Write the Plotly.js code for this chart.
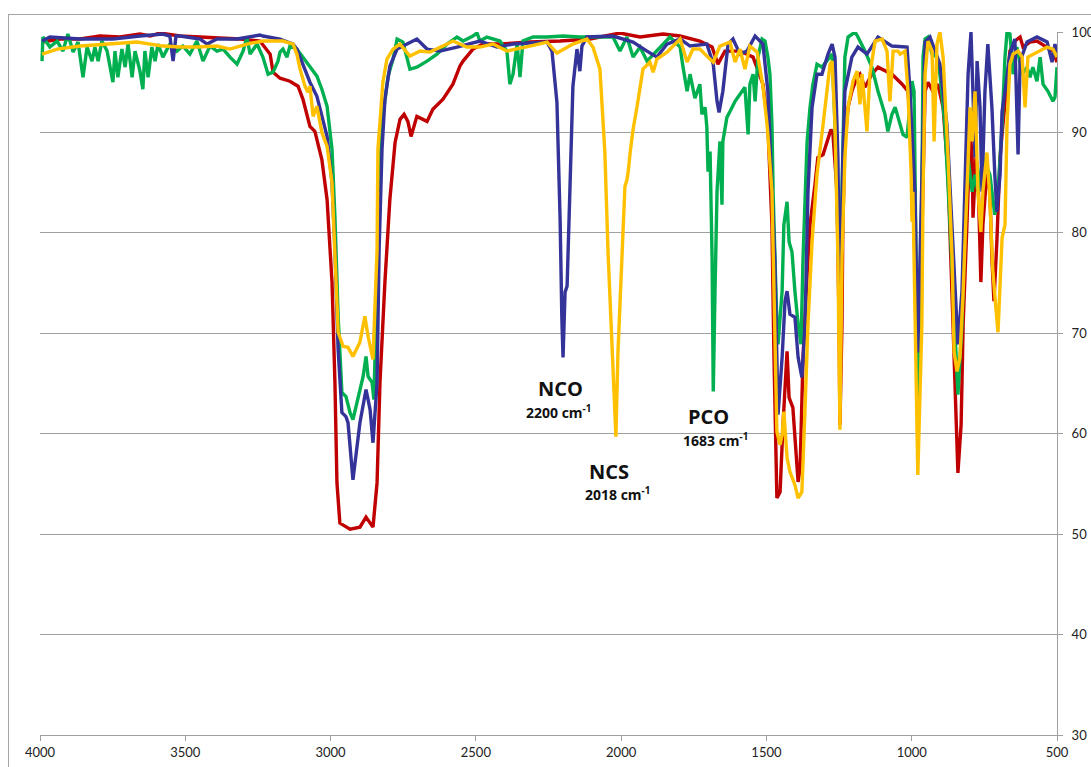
<!DOCTYPE html>
<html>
<head>
<meta charset="utf-8">
<script src="https://cdn.plot.ly/plotly-3.0.1.min.js"></script>
<style>
  html, body { margin: 0; padding: 0; background: #fff; overflow: hidden; }
  #wrap { position: relative; width: 1091px; height: 767px; }
  #chart { position: absolute; left: 0; top: 0; width: 1091px; height: 767px; }
  #frame { position: absolute; left: 8px; top: 14px; width: 2000px; height: 2000px;
           border-left: 1px solid #a6a6a6; border-top: 1px solid #a6a6a6; pointer-events: none; }
</style>
</head>
<body>
<div id="wrap">
  <div id="chart"></div>
  <div id="frame"></div>
</div>
<script>
// FTIR transmittance spectra: [wavenumber (cm-1), transmittance (%)]
const redSpectrum = [
  [3993, 99.0], [3931, 99.3], [3862, 99.3], [3794, 99.6], [3725, 99.5], [3656, 99.8],
  [3621, 99.6], [3587, 99.9], [3518, 99.6], [3449, 99.5], [3381, 99.4], [3312, 99.3],
  [3243, 99.1], [3208, 97.8], [3198, 96.0], [3174, 95.4], [3140, 95.1], [3112, 94.6],
  [3095, 93.3], [3071, 90.6], [3054, 90.1], [3030, 87.3], [3012, 83.3], [2995, 75.1],
  [2985, 65.1], [2978, 55.1], [2968, 51.1], [2933, 50.5], [2899, 50.7], [2878, 51.7],
  [2854, 50.7], [2840, 55.1], [2830, 65.1], [2813, 75.1], [2796, 83.3], [2778, 89.0],
  [2761, 91.3], [2747, 91.8], [2734, 91.1], [2723, 89.6], [2703, 91.6], [2668, 91.1],
  [2648, 92.3], [2613, 93.3], [2579, 94.8], [2555, 96.6], [2544, 97.1], [2510, 98.3],
  [2475, 98.8], [2417, 98.8], [2314, 99.0], [2210, 99.1], [2107, 99.3], [2004, 99.9],
  [1935, 99.5], [1856, 99.8], [1797, 99.6], [1729, 99.1], [1687, 98.5], [1667, 96.8],
  [1643, 98.1], [1591, 98.1], [1546, 97.5], [1512, 94.8], [1495, 90.8], [1481, 80.8],
  [1474, 67.6], [1467, 57.6], [1464, 53.6], [1453, 54.2], [1443, 60.9], [1429, 68.2],
  [1422, 63.6], [1409, 62.6], [1395, 56.6], [1391, 55.2], [1384, 56.6], [1374, 67.6],
  [1360, 75.9], [1350, 80.8], [1333, 84.8], [1323, 87.5], [1305, 87.8], [1292, 89.1],
  [1278, 90.3], [1271, 89.8], [1257, 84.1], [1250, 70.9], [1247, 60.9], [1240, 70.9],
  [1237, 80.8], [1230, 89.1], [1219, 92.5], [1206, 94.1], [1188, 95.5], [1178, 95.8],
  [1161, 94.5], [1137, 95.8], [1116, 96.5], [1068, 95.8], [1033, 94.8], [1013, 94.1],
  [999, 89.1], [989, 77.5], [979, 62.6], [972, 70.9], [961, 84.1], [954, 94.1],
  [944, 95.0], [927, 94.1], [910, 94.8], [892, 92.5], [875, 85.8], [858, 70.9],
  [844, 57.6], [841, 56.1], [830, 60.9], [823, 70.9], [810, 80.8], [799, 90.1],
  [792, 87.5], [789, 81.5], [779, 87.5], [772, 85.8], [762, 75.1], [755, 80.8],
  [741, 86.1], [731, 84.1], [724, 77.5], [717, 73.2], [707, 79.1], [696, 87.5],
  [686, 90.8], [672, 94.8], [662, 98.1], [645, 99.1], [627, 99.5], [617, 98.5],
  [593, 99.0], [569, 99.1], [534, 98.5], [514, 98.1], [500, 97.0]
];

const greenSpectrum = [
  [3993, 97.1], [3990, 99.5], [3966, 98.5], [3941, 99.1], [3921, 98.1], [3904, 99.8],
  [3886, 98.0], [3869, 99.0], [3852, 95.5], [3838, 98.5], [3821, 97.1], [3811, 98.5],
  [3800, 97.1], [3787, 99.1], [3769, 98.1], [3749, 95.0], [3742, 98.1], [3732, 95.5],
  [3718, 98.3], [3707, 96.5], [3697, 98.8], [3683, 95.5], [3673, 98.1], [3656, 96.1],
  [3646, 94.3], [3639, 98.1], [3628, 95.5], [3615, 98.5], [3604, 97.1], [3594, 98.8],
  [3577, 97.5], [3553, 98.8], [3529, 98.1], [3508, 98.6], [3484, 97.8], [3460, 99.1],
  [3439, 97.1], [3415, 98.6], [3391, 98.1], [3370, 98.3], [3346, 97.5], [3322, 96.8],
  [3301, 98.1], [3288, 99.5], [3277, 97.8], [3253, 98.8], [3233, 97.5], [3215, 95.8],
  [3198, 96.0], [3181, 97.1], [3174, 98.0], [3164, 98.3], [3150, 97.5], [3140, 98.6],
  [3116, 98.3], [3071, 96.6], [3047, 95.6], [3030, 94.3], [3012, 92.6], [2995, 88.3],
  [2985, 81.6], [2974, 71.7], [2961, 64.1], [2947, 63.7], [2933, 62.1], [2923, 61.4],
  [2906, 63.4], [2888, 65.7], [2878, 67.7], [2871, 65.7], [2857, 65.1], [2851, 63.4],
  [2840, 75.1], [2833, 85.0], [2820, 91.6], [2802, 95.6], [2785, 97.3], [2771, 99.3],
  [2751, 99.0], [2737, 97.5], [2727, 96.3], [2703, 96.5], [2668, 97.1], [2634, 97.8],
  [2599, 98.8], [2565, 99.5], [2544, 99.1], [2510, 99.6], [2496, 99.9], [2486, 99.1],
  [2462, 99.5], [2417, 99.1], [2393, 98.1], [2383, 94.8], [2372, 95.8], [2358, 98.8],
  [2348, 95.5], [2338, 99.1], [2303, 99.5], [2255, 99.5], [2200, 99.6], [2142, 99.5],
  [2083, 99.5], [2028, 99.5], [2004, 98.1], [1980, 99.5], [1959, 97.5], [1935, 98.5],
  [1911, 97.1], [1877, 98.1], [1856, 98.8], [1832, 99.5], [1808, 98.8], [1797, 98.5],
  [1787, 96.5], [1773, 94.1], [1763, 95.8], [1746, 93.4], [1729, 94.8], [1722, 91.8],
  [1711, 92.5], [1705, 90.5], [1701, 86.1], [1694, 88.1], [1687, 77.5], [1683, 64.2],
  [1677, 74.1], [1670, 84.1], [1660, 89.1], [1653, 82.8], [1650, 89.1], [1636, 91.5],
  [1625, 92.1], [1608, 93.1], [1591, 93.8], [1574, 94.5], [1563, 89.8], [1557, 94.8],
  [1546, 95.8], [1539, 93.1], [1529, 97.5], [1515, 99.3], [1505, 99.1], [1495, 97.5],
  [1488, 95.8], [1481, 90.8], [1477, 84.1], [1471, 77.5], [1464, 70.9], [1460, 68.9],
  [1446, 74.2], [1440, 80.8], [1429, 83.1], [1422, 79.1], [1412, 78.1], [1402, 74.2],
  [1391, 70.9], [1381, 68.9], [1374, 77.5], [1360, 89.1], [1350, 92.5], [1340, 94.8],
  [1326, 96.8], [1309, 96.5], [1292, 97.1], [1274, 97.8], [1264, 90.8], [1254, 77.5],
  [1247, 71.6], [1240, 84.1], [1230, 97.5], [1219, 99.5], [1202, 99.8], [1195, 100.0],
  [1185, 99.5], [1161, 98.1], [1137, 96.5], [1116, 94.1], [1092, 91.8], [1082, 90.1],
  [1068, 91.8], [1057, 92.5], [1047, 91.5], [1030, 89.8], [1016, 89.5], [999, 95.1],
  [992, 94.1], [982, 70.9], [979, 63.0], [965, 84.1], [961, 97.5], [954, 99.3],
  [944, 99.5], [930, 97.8], [913, 97.5], [903, 95.8], [886, 90.8], [868, 80.8],
  [851, 69.1], [841, 63.9], [827, 70.9], [817, 80.8], [806, 87.5], [792, 84.1],
  [782, 85.8], [772, 84.1], [755, 87.5], [731, 85.8], [714, 81.8], [703, 84.1],
  [689, 90.8], [679, 97.5], [672, 100.0], [662, 99.8], [651, 95.8], [638, 98.5],
  [620, 95.8], [603, 96.5], [593, 95.5], [583, 96.5], [569, 95.1], [558, 97.5],
  [548, 94.8], [531, 94.1], [514, 93.1], [507, 93.5], [500, 96.5]
];

const blueSpectrum = [
  [3993, 99.1], [3966, 99.5], [3862, 99.3], [3749, 99.3], [3656, 99.6], [3577, 99.8],
  [3553, 99.6], [3542, 97.1], [3532, 99.6], [3518, 99.6], [3449, 99.3], [3425, 98.8],
  [3391, 99.3], [3322, 99.3], [3243, 99.7], [3233, 99.6], [3174, 99.3], [3129, 98.8],
  [3116, 98.3], [3071, 95.0], [3047, 93.6], [3012, 89.6], [2995, 85.0], [2985, 78.3],
  [2974, 68.4], [2961, 62.1], [2947, 61.7], [2940, 61.1], [2923, 55.4], [2899, 61.1],
  [2878, 64.4], [2864, 62.4], [2854, 59.1], [2840, 65.1], [2833, 78.3], [2823, 88.3],
  [2813, 93.3], [2796, 96.6], [2771, 98.3], [2737, 98.8], [2703, 99.3], [2668, 98.3],
  [2623, 98.1], [2565, 98.5], [2486, 99.1], [2427, 98.5], [2372, 98.8], [2255, 99.0],
  [2238, 98.1], [2221, 93.0], [2210, 81.3], [2204, 71.4], [2200, 67.6], [2193, 74.1],
  [2186, 74.7], [2176, 84.6], [2166, 94.6], [2152, 98.3], [2142, 96.1], [2135, 98.6],
  [2118, 99.5], [2028, 99.6], [1959, 99.0], [1911, 98.1], [1877, 97.5], [1842, 98.8],
  [1797, 99.3], [1763, 98.6], [1705, 98.8], [1683, 96.8], [1670, 93.1], [1663, 92.0],
  [1650, 94.1], [1632, 98.8], [1615, 99.3], [1591, 97.8], [1567, 98.1], [1539, 99.6],
  [1512, 98.8], [1495, 94.1], [1481, 84.1], [1471, 77.3], [1460, 61.9], [1446, 67.6],
  [1436, 73.2], [1429, 74.2], [1419, 71.9], [1402, 71.6], [1391, 67.6], [1378, 65.6],
  [1367, 70.9], [1357, 84.1], [1343, 92.5], [1326, 95.8], [1309, 95.8], [1288, 97.8],
  [1274, 98.8], [1264, 97.5], [1254, 87.5], [1247, 70.9], [1237, 87.5], [1230, 94.1],
  [1206, 97.5], [1185, 98.5], [1154, 97.8], [1116, 99.5], [1068, 98.6], [1016, 98.5],
  [1006, 94.1], [989, 84.1], [979, 68.1], [965, 84.1], [954, 99.0], [937, 99.5],
  [913, 97.5], [903, 96.8], [879, 90.8], [861, 80.8], [844, 70.9], [841, 68.9],
  [827, 74.2], [817, 84.1], [806, 95.8], [796, 100.0], [789, 94.1], [782, 87.5],
  [775, 97.1], [765, 92.5], [758, 84.1], [748, 94.1], [738, 98.8], [724, 92.5],
  [714, 85.8], [707, 82.1], [696, 85.8], [689, 92.1], [679, 94.1], [662, 97.8],
  [645, 99.3], [634, 87.8], [627, 97.1], [603, 99.0], [569, 99.5], [534, 99.0],
  [517, 97.0], [507, 98.8], [500, 97.5]
];

const yellowSpectrum = [
  [3993, 97.8], [3941, 98.3], [3862, 98.6], [3749, 98.8], [3666, 99.0], [3577, 98.6],
  [3518, 98.5], [3460, 98.5], [3391, 98.6], [3346, 98.3], [3288, 98.8], [3233, 99.1],
  [3164, 99.1], [3129, 98.8], [3116, 97.8], [3105, 96.3], [3088, 94.6], [3078, 94.0],
  [3071, 94.6], [3060, 91.6], [3047, 92.6], [3030, 90.0], [3012, 88.6], [2995, 85.0],
  [2985, 78.3], [2974, 70.1], [2957, 68.7], [2940, 68.6], [2923, 67.7], [2899, 69.1],
  [2882, 71.7], [2871, 69.7], [2854, 67.4], [2840, 78.3], [2837, 88.3], [2820, 95.0],
  [2806, 97.3], [2785, 98.3], [2761, 98.8], [2727, 97.6], [2692, 98.1], [2658, 98.0],
  [2599, 98.8], [2579, 99.1], [2531, 98.5], [2486, 98.5], [2441, 98.8], [2393, 98.1],
  [2314, 98.6], [2255, 99.0], [2221, 97.9], [2166, 98.8], [2118, 99.3], [2097, 98.5],
  [2073, 96.3], [2056, 88.0], [2045, 78.0], [2031, 68.1], [2018, 59.7], [2011, 68.1],
  [1997, 78.0], [1987, 84.6], [1980, 85.3], [1976, 86.0], [1969, 88.0], [1959, 90.3],
  [1945, 92.6], [1925, 96.3], [1901, 97.0], [1890, 96.0], [1877, 97.3], [1842, 98.0],
  [1797, 99.3], [1773, 97.0], [1753, 98.3], [1729, 98.3], [1705, 97.6], [1683, 97.0],
  [1660, 98.6], [1625, 99.0], [1608, 97.0], [1591, 98.3], [1574, 96.3], [1557, 98.6],
  [1532, 98.0], [1512, 94.6], [1498, 90.8], [1495, 89.8], [1481, 84.1], [1471, 70.9],
  [1464, 60.2], [1453, 58.9], [1446, 59.9], [1440, 62.2], [1429, 57.6], [1419, 56.2],
  [1402, 54.9], [1391, 53.6], [1378, 54.2], [1367, 62.6], [1357, 70.9], [1343, 79.1],
  [1326, 85.8], [1305, 90.8], [1292, 94.1], [1281, 96.8], [1274, 97.1], [1264, 90.8],
  [1254, 77.5], [1247, 60.4], [1240, 77.5], [1230, 87.5], [1219, 92.5], [1202, 95.1],
  [1188, 96.1], [1178, 92.8], [1171, 95.8], [1154, 90.1], [1144, 95.8], [1126, 99.1],
  [1102, 99.3], [1085, 98.1], [1075, 93.1], [1064, 98.1], [1047, 98.1], [1040, 97.8],
  [1023, 98.1], [1013, 94.1], [1002, 85.8], [999, 81.1], [996, 84.1], [989, 70.9],
  [979, 55.9], [965, 70.9], [961, 84.1], [954, 95.8], [944, 99.1], [930, 98.1],
  [923, 89.1], [913, 98.8], [903, 100.0], [892, 97.5], [875, 87.5], [861, 77.5],
  [854, 68.1], [844, 66.2], [834, 67.6], [823, 74.2], [810, 84.1], [799, 92.5],
  [792, 89.1], [782, 94.1], [772, 84.1], [762, 80.1], [755, 84.1], [741, 88.0],
  [731, 83.3], [721, 76.3], [710, 72.4], [703, 70.1], [689, 79.5], [679, 80.8],
  [672, 90.8], [662, 96.8], [651, 97.8], [634, 98.1], [620, 97.5], [610, 92.5],
  [600, 97.5], [569, 98.0], [534, 98.5], [514, 98.3], [500, 97.5]
];

// Axis ticks
const xTicks = [4000, 3500, 3000, 2500, 2000, 1500, 1000, 500];
const yTicks = [30, 40, 50, 60, 70, 80, 90, 100];

// Band labels: [name, wavenumber text]
const bandLabels = [
  ["NCO", "2200"],
  ["NCS", "2018"],
  ["PCO", "1683"]
];

function trace(spec, color) {
  return {
    type: "scatter",
    mode: "lines",
    x: spec.map(p => p[0]),
    y: spec.map(p => p[1]),
    line: { color: color, width: 3.4 },
    hoverinfo: "skip",
    showlegend: false
  };
}

const data = [
  trace(redSpectrum, "#c00000"),
  trace(greenSpectrum, "#00b050"),
  trace(blueSpectrum, "#333399"),
  trace(yellowSpectrum, "#ffc000")
];

// label placement (name position, number position) in data units
const labelPlaces = [
  { nx: 2207, ny: 64.5, wx: 2217, wy: 62.2 },
  { nx: 2042, ny: 56.2, wx: 2011, wy: 54.0 },
  { nx: 1701, ny: 61.7, wx: 1677, wy: 59.4 }
];

const labelFont = "'Open Sans', 'Noto Sans', sans-serif";
const annotations = [];
bandLabels.forEach((b, i) => {
  const p = labelPlaces[i];
  annotations.push({
    x: p.nx, y: p.ny, xref: "x", yref: "y", showarrow: false,
    xanchor: "center", yanchor: "middle",
    text: "<b>" + b[0] + "</b>",
    font: { family: labelFont, size: 20, color: "#111" }
  });
  annotations.push({
    x: p.wx, y: p.wy, xref: "x", yref: "y", showarrow: false,
    xanchor: "center", yanchor: "middle",
    text: "<b>" + b[1] + " cm<sup>-1</sup></b>",
    font: { family: labelFont, size: 14, color: "#111" }
  });
});

const tickFont = { family: "Lato, 'Liberation Sans', sans-serif", size: 13, color: "#222" };

const layout = {
  width: 1091,
  height: 767,
  margin: { l: 40, r: 34, t: 32, b: 32, pad: 0 },
  paper_bgcolor: "#ffffff",
  plot_bgcolor: "#ffffff",
  showlegend: false,
  xaxis: {
    range: [4000, 500],
    tickvals: xTicks,
    ticktext: xTicks.map(String),
    showgrid: false,
    zeroline: false,
    showline: true,
    linecolor: "#a0a0a0",
    linewidth: 1,
    ticks: "outside",
    ticklen: 5,
    tickcolor: "#a0a0a0",
    tickfont: tickFont
  },
  yaxis: {
    range: [30, 100],
    side: "right",
    tickvals: yTicks,
    ticktext: yTicks.map(String),
    showgrid: true,
    gridcolor: "#a0a0a0",
    gridwidth: 1,
    zeroline: false,
    showline: true,
    linecolor: "#a0a0a0",
    linewidth: 1,
    ticks: "outside",
    ticklen: 5,
    tickcolor: "#a0a0a0",
    ticklabelstandoff: 6,
    tickfont: tickFont
  },
  annotations: annotations
};

Plotly.newPlot("chart", data, layout, { displayModeBar: false, staticPlot: true });
</script>
</body>
</html>
